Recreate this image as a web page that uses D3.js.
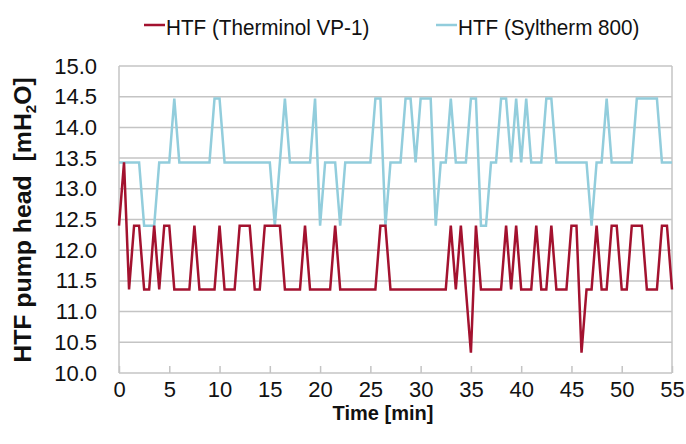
<!DOCTYPE html>
<html>
<head>
<meta charset="utf-8">
<script src="https://cdn.jsdelivr.net/npm/d3@7"></script>
<style>
  body { margin: 0; background: #fff; }
  svg text { font-family: "Liberation Sans", Arial, sans-serif; fill: #111; }
</style>
</head>
<body>
<svg id="chart" width="686" height="444"></svg>
<script>
// sampled every half minute, 0 .. 55 min
var sampleStep = 0.5;

var therminol = [
    12.4, 13.43, 11.36, 12.4, 12.4, 11.36, 11.36, 12.4, 11.36, 12.4,
    12.4, 11.36, 11.36, 11.36, 11.36, 12.4, 11.36, 11.36, 11.36, 11.36,
    12.4, 11.36, 11.36, 11.36, 12.4, 12.4, 12.4, 11.36, 11.36, 12.4,
    12.4, 12.4, 12.4, 11.36, 11.36, 11.36, 11.36, 12.4, 11.36, 11.36,
    11.36, 11.36, 11.36, 12.4, 11.36, 11.36, 11.36, 11.36, 11.36, 11.36,
    11.36, 11.36, 12.4, 12.4, 11.36, 11.36, 11.36, 11.36, 11.36, 11.36,
    11.36, 11.36, 11.36, 11.36, 11.36, 11.36, 12.4, 11.36, 12.4, 11.36,
    10.33, 12.4, 11.36, 11.36, 11.36, 11.36, 11.36, 12.4, 11.36, 12.4,
    11.36, 11.36, 11.36, 12.4, 11.36, 11.36, 12.4, 11.36, 11.36, 11.36,
    12.4, 12.4, 10.33, 11.36, 11.36, 12.4, 11.36, 11.36, 12.4, 12.4,
    11.36, 11.36, 12.4, 12.4, 12.4, 11.36, 11.36, 11.36, 12.4, 12.4,
    11.36
];

var syltherm = [
    13.43, 13.43, 13.43, 13.43, 13.43, 12.4, 12.4, 12.4, 13.43, 13.43,
    13.43, 14.47, 13.43, 13.43, 13.43, 13.43, 13.43, 13.43, 13.43, 14.47,
    14.47, 13.43, 13.43, 13.43, 13.43, 13.43, 13.43, 13.43, 13.43, 13.43,
    13.43, 12.4, 13.43, 14.47, 13.43, 13.43, 13.43, 13.43, 13.43, 14.47,
    12.4, 13.43, 13.43, 13.43, 12.4, 13.43, 13.43, 13.43, 13.43, 13.43,
    13.43, 14.47, 14.47, 12.4, 13.43, 13.43, 13.43, 14.47, 14.47, 13.43,
    14.47, 14.47, 14.47, 12.4, 13.43, 13.43, 14.47, 13.43, 13.43, 13.43,
    14.47, 14.47, 12.4, 12.4, 13.43, 13.43, 14.47, 14.47, 13.43, 14.47,
    13.43, 14.47, 13.43, 13.43, 13.43, 14.47, 14.47, 13.43, 13.43, 13.43,
    13.43, 13.43, 13.43, 13.43, 12.4, 13.43, 13.43, 14.47, 13.43, 13.43,
    13.43, 13.43, 13.43, 14.47, 14.47, 14.47, 14.47, 14.47, 13.43, 13.43,
    13.43
];

var seriesNames = ["HTF (Therminol VP-1)", "HTF (Syltherm 800)"];
var seriesColors = ["#a3122f", "#92cddc"];
var xTicks = [0, 5, 10, 15, 20, 25, 30, 35, 40, 45, 50, 55];
var yTicks = [10.0, 10.5, 11.0, 11.5, 12.0, 12.5, 13.0, 13.5, 14.0, 14.5, 15.0];

function drawChart() {
    var svg = d3.select("#chart");
    var plotLeft = 119, plotRight = 672, plotTop = 66, plotBottom = 373;
    var gridColor = "#c4c4c4";

    var x = d3.scaleLinear().domain([0, 55]).range([plotLeft, plotRight]);
    var y = d3.scaleLinear().domain([10, 15]).range([plotBottom, plotTop]);

    // horizontal grid
    svg.append("g").selectAll("line")
        .data(yTicks)
        .enter().append("line")
        .attr("x1", plotLeft).attr("x2", plotRight)
        .attr("y1", function(d) { return y(d); })
        .attr("y2", function(d) { return y(d); })
        .attr("stroke", gridColor)
        .attr("stroke-width", 1.5);

    // frame sides
    svg.append("line").attr("x1", plotLeft).attr("x2", plotLeft).attr("y1", plotTop).attr("y2", plotBottom)
        .attr("stroke", gridColor).attr("stroke-width", 1.5);
    svg.append("line").attr("x1", plotRight).attr("x2", plotRight).attr("y1", plotTop).attr("y2", plotBottom)
        .attr("stroke", gridColor).attr("stroke-width", 1.5);

    // x axis, ticks point up into the plot
    var xAxis = d3.axisBottom(x).tickValues(xTicks).tickSizeInner(-7).tickSizeOuter(0).tickPadding(8)
        .tickFormat(d3.format("d"));
    var gx = svg.append("g").attr("transform", "translate(0," + plotBottom + ")").call(xAxis);
    gx.select(".domain").remove();
    gx.selectAll(".tick line").attr("stroke", gridColor).attr("stroke-width", 1.5);
    gx.selectAll(".tick text").attr("font-size", 22).attr("fill", "#111");

    var yAxis = d3.axisLeft(y).tickValues(yTicks).tickSize(0).tickPadding(22)
        .tickFormat(d3.format(".1f"));
    var gy = svg.append("g").attr("transform", "translate(" + plotLeft + ",0)").call(yAxis);
    gy.select(".domain").remove();
    gy.selectAll(".tick text").attr("font-size", 22).attr("fill", "#111");

    // lines, red drawn last so it sits on top
    var line = d3.line()
        .x(function(d, i) { return x(i * sampleStep); })
        .y(function(d) { return y(d); });

    [syltherm, therminol].forEach(function(values) {
        var k = values === therminol ? 0 : 1;
        svg.append("path")
            .datum(values)
            .attr("fill", "none")
            .attr("stroke", seriesColors[k])
            .attr("stroke-width", 2.5)
            .attr("d", line);
    });

    // axis titles
    svg.append("text")
        .attr("x", 383).attr("y", 420)
        .attr("text-anchor", "middle")
        .attr("font-size", 20).attr("font-weight", "bold")
        .text("Time [min]");

    var yt = svg.append("text")
        .attr("transform", "translate(31,220) rotate(-90) scale(1.08,1)")
        .attr("text-anchor", "middle")
        .style("white-space", "pre")
        .attr("font-size", 23).attr("font-weight", "bold");
    yt.append("tspan").text("HTF pump head  [mH");
    yt.append("tspan").attr("font-size", 14).attr("dy", 5).text("2");
    yt.append("tspan").attr("dy", -5).text("O]");

    // legend
    var legendX = [144, 436];
    seriesNames.forEach(function(name, k) {
        var g = svg.append("g").attr("transform", "translate(" + legendX[k] + ",25)");
        g.append("line").attr("x1", 0).attr("x2", 21).attr("y1", 0).attr("y2", 0)
            .attr("stroke", seriesColors[k]).attr("stroke-width", 2.5);
        g.append("text").attr("transform", "translate(22,10) scale(0.94,1)")
            .attr("font-size", 22)
            .text(name);
    });
}

drawChart();
</script>
</body>
</html>
